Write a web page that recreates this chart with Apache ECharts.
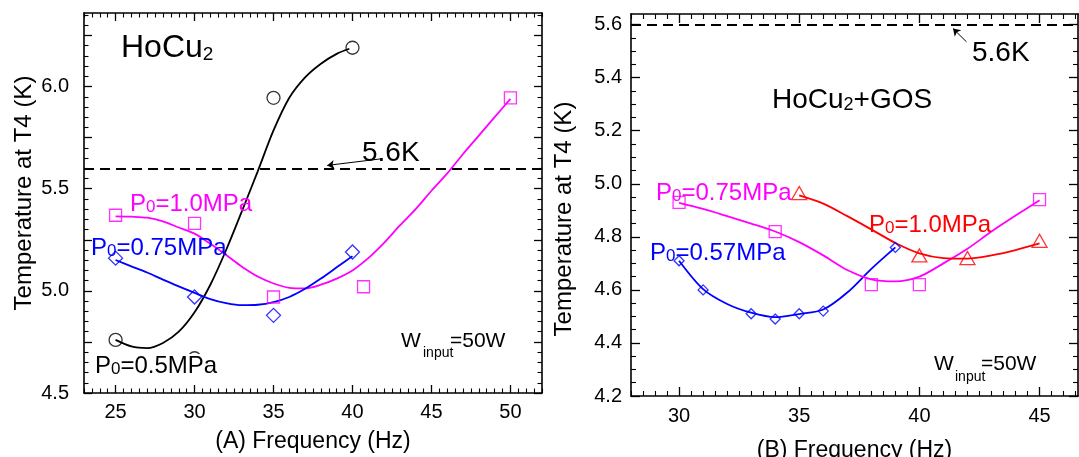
<!DOCTYPE html>
<html>
<head>
<meta charset="utf-8">
<script src="https://cdn.jsdelivr.net/npm/echarts@6/dist/echarts.min.js"></script>
<style>
  html, body { margin: 0; padding: 0; background: #fff; }
  #chart { width: 1079px; height: 457px; }
</style>
</head>
<body>
<div id="chart"></div>
<script>
// ---------------- DATA ----------------
// Panel (A) HoCu2 — measured points
const A_P05_freq  = [25, 30, 35, 40];
const A_P05_temp  = [4.76, 4.67, 5.945, 6.19];
const A_P10_freq  = [25, 30, 35, 40.7, 50];
const A_P10_temp  = [5.37, 5.33, 4.97, 5.02, 5.945];
const A_P075_freq = [25, 30, 35, 40];
const A_P075_temp = [5.16, 4.97, 4.88, 5.19];
// Panel (A) fitted curves (sampled along the drawn curves)
const A_fit05_freq  = [25, 26, 27, 28, 29, 30, 31, 32, 33, 34, 35, 36, 37, 38, 39, 39.8];
const A_fit05_temp  = [4.76, 4.728, 4.72, 4.745, 4.80, 4.895, 5.03, 5.20, 5.39, 5.585, 5.785, 5.945, 6.045, 6.112, 6.16, 6.185];
const A_fit10_freq  = [25, 26, 27, 28, 29, 30, 31, 32, 33, 34, 35, 36, 37, 38, 39, 40, 41, 42, 43, 44, 45, 46, 47, 48, 49, 50];
const A_fit10_temp  = [5.365, 5.363, 5.358, 5.34, 5.31, 5.28, 5.23, 5.175, 5.118, 5.07, 5.036, 5.015, 5.012, 5.03, 5.06,
                       5.10, 5.16, 5.235, 5.32, 5.40, 5.49, 5.575, 5.67, 5.76, 5.85, 5.94];
const A_fit075_freq = [25, 26, 27, 28, 29, 30, 31, 32, 33, 34, 35, 36, 37, 38, 39, 40];
const A_fit075_temp = [5.151, 5.12, 5.09, 5.055, 5.022, 4.99, 4.96, 4.94, 4.93, 4.932, 4.945, 4.97, 5.01, 5.06, 5.115, 5.17];

// Panel (B) HoCu2+GOS — measured points
const B_P057_freq = [30, 31, 33, 34, 35, 36, 39];
const B_P057_temp = [4.71, 4.60, 4.51, 4.49, 4.51, 4.52, 4.76];
const B_P075_freq = [30, 34, 38, 40, 45];
const B_P075_temp = [4.93, 4.82, 4.62, 4.62, 4.94];
const B_P10_freq  = [35, 40, 42, 45];
const B_P10_temp  = [4.965, 4.73, 4.72, 4.785];
// Panel (B) fitted curves
const B_fit057_freq = [30, 31, 32, 33, 34, 35, 36, 37, 38, 39];
const B_fit057_temp = [4.71, 4.603, 4.547, 4.514, 4.497, 4.509, 4.526, 4.59, 4.679, 4.76];
const B_fit075_freq = [30, 31, 32, 33, 34, 35, 36, 37, 38, 39, 40, 41, 42, 43, 44, 45];
const B_fit075_temp = [4.928, 4.905, 4.878, 4.85, 4.82, 4.78, 4.73, 4.675, 4.64, 4.632, 4.65, 4.70, 4.755, 4.82, 4.88, 4.938];
const B_fit10_freq  = [35, 36, 37, 38, 39, 40, 41, 42, 43, 44, 45];
const B_fit10_temp  = [4.956, 4.925, 4.878, 4.828, 4.777, 4.738, 4.72, 4.718, 4.73, 4.75, 4.775];

// Reference level
const LIMIT_T = 5.6;

// Tick labels
const A_xLabels = [25, 30, 35, 40, 45, 50];
const A_yLabels = [4.5, 5.0, 5.5, 6.0];
const A_yMajor  = [4.5, 4.75, 5.0, 5.25, 5.5, 5.75, 6.0, 6.25];
const B_xLabels = [30, 35, 40, 45];
const B_yLabels = [4.2, 4.4, 4.6, 4.8, 5.0, 5.2, 5.4, 5.6];

// ---------------- helpers ----------------
const FONT = "'Liberation Sans', Arial, Helvetica, sans-serif";
const pts = (xs, ys) => xs.map((x, i) => [x, ys[i]]);
function steps(lo, hi, step, exclude) {
  const out = [];
  const n = Math.round((hi - lo) / step);
  for (let i = 0; i <= n; i++) {
    const v = +(lo + i * step).toFixed(4);
    if (!exclude.some(e => Math.abs(e - v) < 1e-6)) out.push(v);
  }
  return out;
}

function makeAxes(dim, gridIndex, c) {
  const isX = dim === 'x';
  const posMain = isX ? 'bottom' : 'left';
  const posMirror = isX ? 'top' : 'right';
  const lineStyle = { color: '#000', width: 1.6 };
  const base = {
    type: 'value', gridIndex: gridIndex, min: c.min, max: c.max,
    splitLine: { show: false }, scale: true
  };
  const main = Object.assign({}, base, {
    position: posMain,
    axisLine: { show: true, onZero: false, lineStyle: lineStyle },
    axisTick: { show: true, inside: true, length: c.majorLen, customValues: c.major, lineStyle: { color: '#000', width: 1.3 } },
    axisLabel: {
      show: true, customValues: c.labels, color: '#000', fontSize: 20, fontFamily: FONT,
      margin: c.labelMargin, formatter: v => c.fmt(v)
    },
    name: c.name, nameLocation: 'middle', nameGap: c.nameGap,
    nameTextStyle: { color: '#000', fontSize: c.nameSize, fontFamily: FONT, padding: c.namePad || 0 }
  });
  const minor = Object.assign({}, base, {
    position: posMain,
    axisLine: { show: false, onZero: false },
    axisTick: { show: true, inside: true, length: c.minorLen, customValues: c.minor, lineStyle: { color: '#000', width: 1.1 } },
    axisLabel: { show: false }
  });
  const mirror = Object.assign({}, base, {
    position: posMirror,
    axisLine: { show: true, onZero: false, lineStyle: lineStyle },
    axisTick: { show: true, inside: true, length: c.majorLen, customValues: c.major, lineStyle: { color: '#000', width: 1.3 } },
    axisLabel: { show: false }
  });
  const mirrorMinor = Object.assign({}, base, {
    position: posMirror,
    axisLine: { show: false, onZero: false },
    axisTick: { show: true, inside: true, length: c.minorLen, customValues: c.minor, lineStyle: { color: '#000', width: 1.1 } },
    axisLabel: { show: false }
  });
  return [main, minor, mirror, mirrorMinor];
}

const f0 = v => String(Math.round(v));
const f1 = v => (+v).toFixed(1);

const xAxes = [].concat(
  makeAxes('x', 0, { min: 23, max: 52, major: A_xLabels, labels: A_xLabels,
    minor: steps(23, 52, 0.5, A_xLabels), majorLen: 8, minorLen: 4.5, labelMargin: 9, fmt: f0,
    name: '(A) Frequency (Hz)', nameGap: 37, nameSize: 23 }),
  makeAxes('x', 1, { min: 28, max: 46.6, major: B_xLabels, labels: B_xLabels,
    minor: steps(28, 46.5, 0.5, B_xLabels), majorLen: 9, minorLen: 5, labelMargin: 10, fmt: f0,
    name: '(B) Frequency (Hz)', nameGap: 43, nameSize: 23 })
);
const yAxes = [].concat(
  makeAxes('y', 0, { min: 4.5, max: 6.36, major: A_yMajor, labels: A_yLabels,
    minor: steps(4.5, 6.35, 0.05, A_yMajor), majorLen: 8, minorLen: 4.5, labelMargin: 15, fmt: f1,
    name: 'Temperature at T4 (K)', nameGap: 48, nameSize: 24, namePad: [0, 0, 0, 20] }),
  makeAxes('y', 1, { min: 4.2, max: 5.64, major: B_yLabels, labels: B_yLabels,
    minor: steps(4.2, 5.6, 0.05, B_yLabels), majorLen: 9, minorLen: 5, labelMargin: 9, fmt: f1,
    name: 'Temperature at T4 (K)', nameGap: 55, nameSize: 24, namePad: [0, 28, 0, 0] })
);

function curve(g, xs, ys, color, extra) {
  return Object.assign({
    type: 'line', xAxisIndex: g * 4, yAxisIndex: g * 4, data: pts(xs, ys),
    smooth: 0.3, showSymbol: false, symbol: 'none', silent: true, z: 2,
    lineStyle: { color: color, width: 1.8 }
  }, extra || {});
}
function markers(g, xs, ys, color, symbol, size) {
  return {
    type: 'scatter', xAxisIndex: g * 4, yAxisIndex: g * 4, data: pts(xs, ys),
    symbol: symbol, symbolSize: size, silent: true, z: 3,
    itemStyle: { color: 'rgba(255,255,255,0)', borderColor: color, borderWidth: 1.3 }
  };
}
function limitLine(dashArrowFrom, dashArrowTo) {
  return {
    silent: true, symbol: 'none', animation: false,
    label: { show: false },
    data: [
      { yAxis: LIMIT_T, lineStyle: { color: '#000', width: 1.8, type: [10, 6] } },
      [
        { coord: dashArrowFrom, symbol: 'none', lineStyle: { color: '#000', width: 1, type: 'solid' } },
        { coord: dashArrowTo, symbol: 'arrow', symbolSize: 7 }
      ]
    ]
  };
}

const series = [
  curve(0, A_fit05_freq, A_fit05_temp, '#000000', { markLine: limitLine([41.9, 5.647], [38.4, 5.614]) }),
  curve(0, A_fit10_freq, A_fit10_temp, '#ff00ff'),
  curve(0, A_fit075_freq, A_fit075_temp, '#0000ff'),
  markers(0, A_P05_freq, A_P05_temp, '#000000', 'circle', 13),
  markers(0, A_P10_freq, A_P10_temp, '#ff00ff', 'rect', 12),
  markers(0, A_P075_freq, A_P075_temp, '#0000ff', 'diamond', 14),

  curve(1, B_fit057_freq, B_fit057_temp, '#0000ff', { markLine: limitLine([41.96, 5.535], [41.4, 5.585]) }),
  curve(1, B_fit075_freq, B_fit075_temp, '#ff00ff'),
  curve(1, B_fit10_freq, B_fit10_temp, '#ff0000'),
  markers(1, B_P057_freq, B_P057_temp, '#0000ff', 'diamond', 10),
  markers(1, B_P075_freq, B_P075_temp, '#ff00ff', 'rect', 12),
  markers(1, B_P10_freq, B_P10_temp, '#ff0000', 'triangle', [15, 13])
];

function label(x, y, text, color, size, subSize, extraStyle) {
  return {
    type: 'text', x: x, y: y, z: 100, silent: true,
    style: Object.assign({
      text: text, fill: color, fontSize: size, fontFamily: FONT,
      align: 'left', verticalAlign: 'middle',
      rich: {
        n: { fill: color, fontSize: size, fontFamily: FONT, verticalAlign: 'bottom' },
        s: { fill: color, fontSize: subSize, fontFamily: FONT, verticalAlign: 'bottom' }
      }
    }, extraStyle || {})
  };
}
function plain(x, y, text, color, size) {
  return {
    type: 'text', x: x, y: y, z: 100, silent: true,
    style: { text: text, fill: color, fontSize: size, fontFamily: FONT, align: 'left', verticalAlign: 'middle' }
  };
}

const graphics = [
  // Panel A
  label(121, 48, '{n|HoCu}{s|2}', '#000', 32, 19),
  label(130, 204, '{n|P}{s|0}{n|=1.0MPa}', '#ff00ff', 24, 17),
  label(91, 248, '{n|P}{s|0}{n|=0.75MPa}', '#0000ff', 24, 17),
  label(95, 366, '{n|P}{s|0}{n|=0.5MPa}', '#000', 24, 17, { backgroundColor: '#fff' }),
  plain(362, 153, '5.6K', '#000', 28),
  plain(401, 341, 'W', '#000', 21),
  plain(423, 353, 'input', '#000', 14),
  plain(450, 341, '=50W', '#000', 21),
  // Panel B
  label(772, 100, '{n|HoCu}{s|2}{n|+GOS}', '#000', 28, 18),
  plain(972, 53, '5.6K', '#000', 28),
  label(656, 193, '{n|P}{s|0}{n|=0.75MPa}', '#ff00ff', 24, 17),
  label(869, 225, '{n|P}{s|0}{n|=1.0MPa}', '#ff0000', 24, 17),
  label(650, 253, '{n|P}{s|0}{n|=0.57MPa}', '#0000ff', 24, 17),
  plain(934, 364, 'W', '#000', 21),
  plain(955, 377, 'input', '#000', 14),
  plain(981, 364, '=50W', '#000', 21)
];

const chart = echarts.init(document.getElementById('chart'), null, { renderer: 'canvas' });
chart.setOption({
  animation: false,
  backgroundColor: '#fff',
  textStyle: { fontFamily: FONT },
  grid: [
    { left: 84, top: 13, width: 458, height: 380, containLabel: false, outerBoundsMode: 'none' },
    { left: 631, top: 14, width: 447, height: 382, containLabel: false, outerBoundsMode: 'none' }
  ],
  xAxis: xAxes,
  yAxis: yAxes,
  series: series,
  graphic: graphics
});
</script>
</body>
</html>
